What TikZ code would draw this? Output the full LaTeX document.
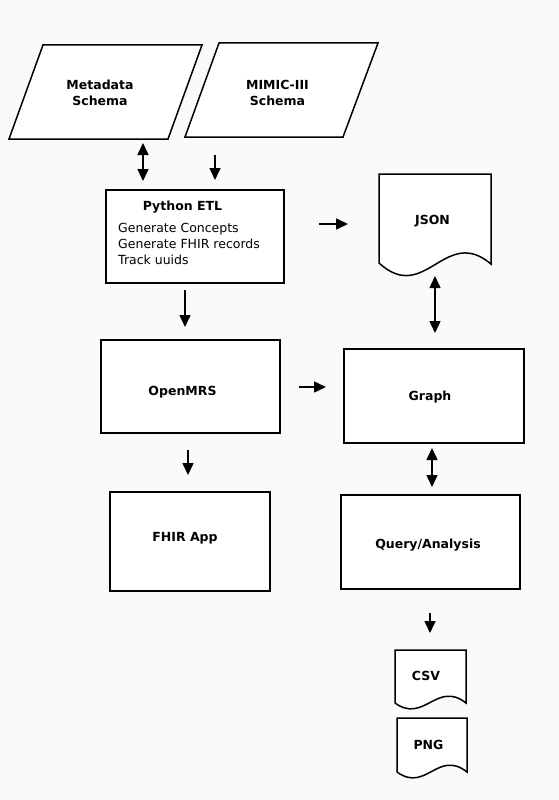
\documentclass[tikz,border=0pt]{standalone}
\usepackage{fontspec}
\setmainfont{DejaVu Sans}
\usetikzlibrary{arrows.meta}

\definecolor{paper}{RGB}{250,250,250}

\tikzset{
  shape line/.style={line width=1.5pt, fill=white, line join=miter},
  label bold/.style={inner sep=0pt, align=center, font=\fontsize{12.5}{16}\selectfont\bfseries},
  label plain/.style={inner sep=0pt, align=left, font=\fontsize{12.5}{16}\selectfont},
  flow/.style={line width=1.5pt, -{Triangle[length=12pt,width=11pt]}},
  flow both/.style={line width=1.5pt, {Triangle[length=12pt,width=11pt]}-{Triangle[length=12pt,width=11pt]}},
}

\begin{document}
\begin{tikzpicture}[x=1pt, y=-1pt]

\fill[paper] (0,0) rectangle (559,800);

% schema inputs
\coordinate (meta_tl) at (43,45);   \coordinate (meta_tr) at (202,45);
\coordinate (meta_bl) at (9,139);   \coordinate (meta_br) at (168,139);
\coordinate (mimic_tl) at (219,43); \coordinate (mimic_tr) at (378,43);
\coordinate (mimic_bl) at (185,137); \coordinate (mimic_br) at (343,137);

\draw[shape line] (meta_tl) -- (meta_tr) -- (meta_br) -- (meta_bl) -- cycle;
\draw[shape line] (mimic_tl) -- (mimic_tr) -- (mimic_br) -- (mimic_bl) -- cycle;

% process boxes
\coordinate (etl_tl) at (106,190);   \coordinate (etl_br) at (284,283);
\coordinate (omrs_tl) at (101,340);  \coordinate (omrs_br) at (280,433);
\coordinate (graph_tl) at (344,349); \coordinate (graph_br) at (524,443);
\coordinate (fhir_tl) at (110,492);  \coordinate (fhir_br) at (270,591);
\coordinate (query_tl) at (341,495); \coordinate (query_br) at (520,589);

\draw[shape line] (etl_tl) rectangle (etl_br);
\draw[shape line] (omrs_tl) rectangle (omrs_br);
\draw[shape line] (graph_tl) rectangle (graph_br);
\draw[shape line] (fhir_tl) rectangle (fhir_br);
\draw[shape line] (query_tl) rectangle (query_br);

% output documents
\draw[shape line] (379,174) -- (491,174) -- (491,264)
  .. controls (445,225) and (425,305) .. (379,263) -- cycle;
\draw[shape line] (395,650) -- (466,650) -- (466,703)
  .. controls (437,680) and (424,724) .. (395,703) -- cycle;
\draw[shape line] (397,718) -- (467,718) -- (467,772)
  .. controls (438,749) and (426,793) .. (397,772) -- cycle;

\node[label bold] (meta) at (100,93) {Metadata\\Schema};
\node[label bold] (mimic) at (277.5,93) {MIMIC-III\\Schema};

\node[label bold] (etl) at (182.5,207) {Python ETL};
\node[label plain, anchor=west] (etl_steps) at (118,244)
  {Generate Concepts\\Generate FHIR records\\Track uuids};

\node[label bold] (omrs) at (182.5,392) {OpenMRS};
\node[label bold] (graph) at (430,397) {Graph};
\node[label bold] (fhir) at (185,538) {FHIR App};
\node[label bold] (query) at (428,545) {Query/Analysis};

\node[label bold] (json) at (432.5,221) {JSON};
\node[label bold] (csv) at (426,676) {CSV};
\node[label bold] (png) at (428.5,745) {PNG};

% schemas into the ETL
\coordinate (meta_out) at (143,143);  \coordinate (etl_in_a) at (143,181);
\draw[flow both] (meta_out) -- (etl_in_a);
\coordinate (mimic_out) at (215,155); \coordinate (etl_in_b) at (215,180);
\draw[flow] (mimic_out) -- (etl_in_b);

% ETL out
\coordinate (etl_right) at (319,224); \coordinate (json_in) at (348,224);
\draw[flow] (etl_right) -- (json_in);
\coordinate (etl_down) at (185,290);  \coordinate (omrs_in) at (185,327);
\draw[flow] (etl_down) -- (omrs_in);

% graph links
\coordinate (json_out) at (435,276);  \coordinate (graph_in_a) at (435,333);
\draw[flow both] (json_out) -- (graph_in_a);
\coordinate (omrs_right) at (299,387); \coordinate (graph_in_b) at (326,387);
\draw[flow] (omrs_right) -- (graph_in_b);
\coordinate (graph_down) at (432,448); \coordinate (query_in) at (432,487);
\draw[flow both] (graph_down) -- (query_in);

% bottom arrows
\coordinate (omrs_down) at (188,450); \coordinate (fhir_in) at (188,475);
\draw[flow] (omrs_down) -- (fhir_in);
\coordinate (query_down) at (430,613); \coordinate (csv_in) at (430,633);
\draw[flow] (query_down) -- (csv_in);

\end{tikzpicture}
\end{document}
